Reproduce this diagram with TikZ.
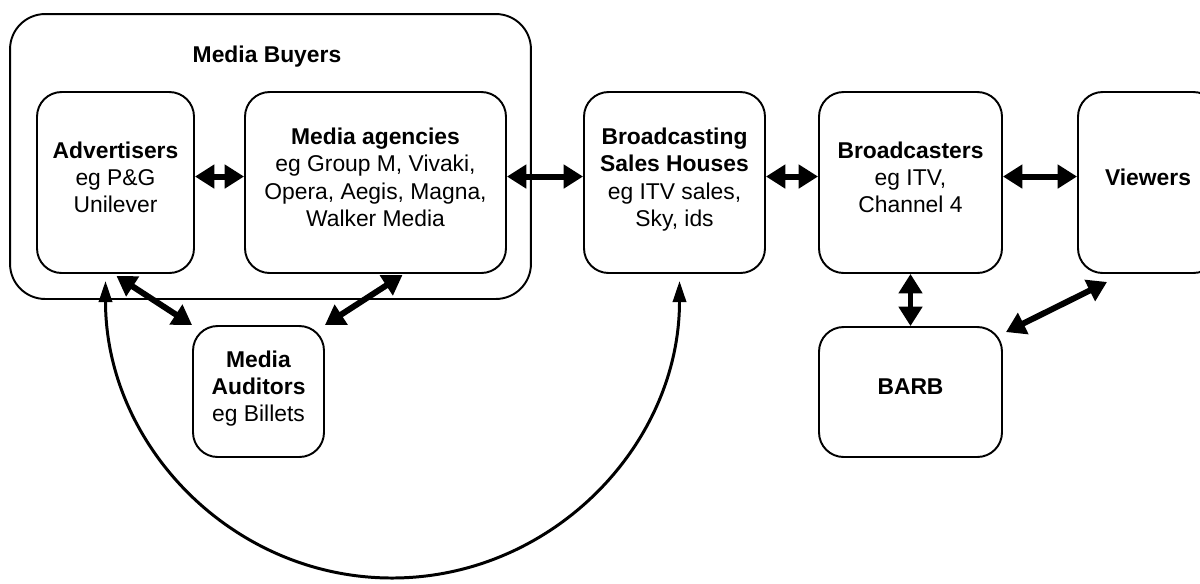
\documentclass[tikz,border=0pt]{standalone}
\usepackage{fontspec}
\setmainfont{Liberation Sans}
\usetikzlibrary{arrows.meta}

\tikzset{
  box/.style={draw, line width=1.1pt, rounded corners=14pt, align=center, text depth=6pt},
  dblarrow/.style={line width=3.4pt, {Triangle[length=11pt,width=13pt]}-{Triangle[length=11pt,width=13pt]}},
  loopline/.style={line width=1.7pt, {Triangle[length=12pt,width=7.5pt]}-{Triangle[length=12pt,width=7.5pt]}}
}

\begin{document}
\begin{tikzpicture}[x=0.02cm,y=-0.02cm,font=\fontsize{13}{15.6}\selectfont]
  \useasboundingbox (0,0) rectangle (1200,583);
  \clip (0,0) rectangle (1200,583);

  % Media buyers group
  \node[box, rounded corners=20pt, minimum width=10.42cm, minimum height=5.7cm] (buyers) at (270.5,156.5) {};
  \node (buyerstitle) at (267,57) {\textbf{Media Buyers}};
  \node[box, minimum width=3.14cm, minimum height=3.62cm] (adv) at (115.5,182.5) {\textbf{Advertisers}\\eg P\&G\\Unilever};
  \node[box, minimum width=5.22cm, minimum height=3.62cm] (agency) at (375.5,182.5) {\textbf{Media agencies}\\eg Group M, Vivaki,\\Opera, Aegis, Magna,\\Walker Media};

  % the rest of the chain
  \node[box, minimum width=3.62cm, minimum height=3.62cm] (bsh) at (674.5,182.5) {\textbf{Broadcasting}\\\textbf{Sales Houses}\\eg ITV sales,\\Sky, ids};
  \node[box, minimum width=3.66cm, minimum height=3.62cm] (bcast) at (910.5,182.5) {\textbf{Broadcasters}\\eg ITV,\\Channel 4};
  \node[box, minimum width=2.8cm, minimum height=3.62cm] (viewers) at (1148,182.5) {\textbf{Viewers}};

  % lower row
  \node[box, minimum width=2.62cm, minimum height=2.62cm] (auditors) at (258.5,391.5) {\textbf{Media}\\\textbf{Auditors}\\eg Billets};
  \node[box, minimum width=3.66cm, minimum height=2.6cm] (barb) at (910.5,392) {\textbf{BARB}};

  % two-way links
  \draw[dblarrow] ([yshift=3.4pt]adv.east) -- ([yshift=3.4pt]agency.west);
  \draw[dblarrow] ([yshift=3.4pt]agency.east) -- ([yshift=3.4pt]bsh.west);
  \draw[dblarrow] ([yshift=3.4pt]bsh.east) -- ([yshift=3.4pt]bcast.west);
  \draw[dblarrow] ([yshift=3.4pt]bcast.east) -- ([yshift=3.4pt]viewers.west);
  \draw[dblarrow] (bcast.south) -- (barb.north);
  \draw[dblarrow] ([shift={(3,6)}]barb.north east) -- ([shift={(30,8)}]viewers.south west);
  \draw[dblarrow] ([shift={(1,2)}]adv.south) -- (auditors.north west);
  \draw[dblarrow] ([shift={(27,1)}]agency.south) -- (auditors.north east);

  % big loop underneath
  \coordinate (loopbottom) at (392,578);
  \draw[loopline] ([shift={(-10,7)}]adv.south) .. controls +(0,165) and +(-159,0) .. (loopbottom)
    .. controls +(159,0) and +(0,165) .. ([shift={(5,7)}]bsh.south);

\end{tikzpicture}
\end{document}
